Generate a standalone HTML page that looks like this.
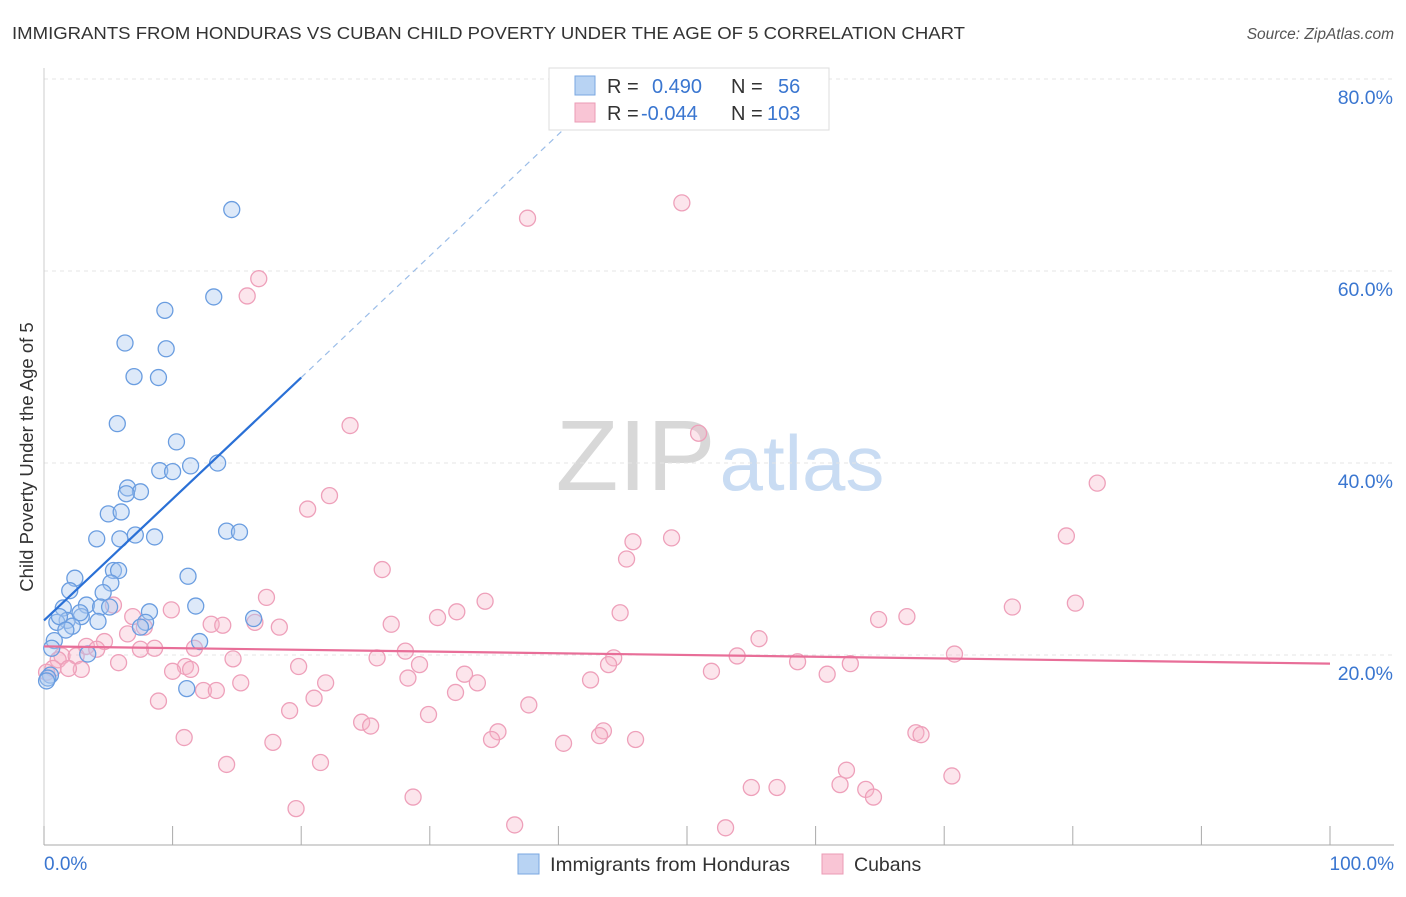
<!DOCTYPE html>
<html><head><meta charset="utf-8"><style>
body{margin:0;background:#fff;font-family:"Liberation Sans",sans-serif}
svg text{font-family:"Liberation Sans",sans-serif}
</style></head><body>
<svg id="c" width="1406" height="892" xmlns="http://www.w3.org/2000/svg">
<text x="12" y="39" font-size="17.5" fill="#333" textLength="953" lengthAdjust="spacingAndGlyphs">IMMIGRANTS FROM HONDURAS VS CUBAN CHILD POVERTY UNDER THE AGE OF 5 CORRELATION CHART</text>
<text x="1394" y="39" font-size="15.5" fill="#555" text-anchor="end" font-style="italic">Source: ZipAtlas.com</text>
<text x="720" y="490" font-size="100" text-anchor="middle" fill="#ddd" font-family="Liberation Serif"><tspan fill="#d8d8d8" textLength="160" lengthAdjust="spacingAndGlyphs">ZIP</tspan><tspan fill="#c9dcf3" font-family="Liberation Sans" font-size="78" dx="4">atlas</tspan></text>
<g id="grid"></g>
<g id="axes"></g>
<g id="pts"></g>
<g id="lines"></g>
<text transform="translate(33,457) rotate(-90)" font-size="18.5" fill="#333" text-anchor="middle">Child Poverty Under the Age of 5</text>
<g>
<rect x="549" y="68" width="280" height="62" fill="#fff" stroke="#ddd"/>
<rect x="575" y="76" width="20" height="19" fill="#b8d3f3" stroke="#7aa7e0"/>
<rect x="575" y="103" width="20" height="19" fill="#f9c5d5" stroke="#eb9bb5"/>
<text y="93" font-size="20" fill="#333"><tspan x="607">R =</tspan><tspan x="652" fill="#3a76d0">0.490</tspan><tspan x="731">N =</tspan><tspan x="778" fill="#3a76d0">56</tspan></text>
<text y="120" font-size="20" fill="#333"><tspan x="607">R =</tspan><tspan x="641" fill="#3a76d0">-0.044</tspan><tspan x="731">N =</tspan><tspan x="767" fill="#3a76d0">103</tspan></text>
</g>
<g>
<rect x="518" y="854" width="21" height="20" fill="#b8d3f3" stroke="#7aa7e0"/>
<text x="550" y="871" font-size="19.5" fill="#333" textLength="240" lengthAdjust="spacingAndGlyphs">Immigrants from Honduras</text>
<rect x="822" y="854" width="21" height="20" fill="#f9c5d5" stroke="#eb9bb5"/>
<text x="854" y="871" font-size="19.5" fill="#333">Cubans</text>
</g>
</svg>
<script>
const yTicks=[20,40,60,80];
const xTickLabels=["0.0%","100.0%"];
const blueX=[14.6,13.2,9.4,6.3,9.5,7.0,8.9,5.7,10.3,9.0,10.0,11.4,13.5,6.5,7.5,6.4,5.0,6.0,4.1,5.9,7.1,8.6,14.2,15.2,5.4,5.8,11.2,2.4,5.2,4.6,2.0,3.3,4.4,1.5,8.2,11.8,16.3,2.9,1.8,1.0,4.2,7.9,7.5,2.2,12.1,0.8,0.6,3.4,11.1,0.5,0.3,0.2,2.8,1.2,5.1,1.7];
const blueY=[66.4,57.3,55.9,52.5,51.9,49.0,48.9,44.1,42.2,39.2,39.1,39.7,40.0,37.4,37.0,36.8,34.7,34.9,32.1,32.1,32.5,32.3,32.9,32.8,28.8,28.8,28.2,28.0,27.5,26.5,26.7,25.2,25.0,24.9,24.5,25.1,23.8,24.0,23.6,23.4,23.5,23.4,22.9,23.0,21.4,21.5,20.7,20.1,16.5,17.9,17.6,17.3,24.4,24.0,25.0,22.6];
const pinkX=[49.6,37.6,16.7,15.8,50.9,23.8,81.9,22.2,20.5,79.5,48.8,45.8,45.3,26.3,17.3,34.3,80.2,75.3,32.1,44.8,30.6,64.9,67.1,5.4,6.9,9.9,16.4,18.3,13.0,13.9,27.0,7.8,6.5,55.6,4.7,3.3,7.5,8.6,4.1,28.1,1.4,2.5,1.1,14.7,44.3,43.9,25.9,53.9,58.6,70.8,62.7,5.8,11.0,29.2,32.7,10.0,11.4,19.8,2.9,1.9,51.9,60.9,28.3,42.5,21.9,15.3,33.7,32.0,21.0,12.4,13.4,8.9,37.7,19.1,29.9,24.7,25.4,43.5,35.3,34.8,43.2,46.0,67.8,68.2,10.9,17.8,40.4,21.5,14.2,62.4,70.6,55.0,57.0,61.9,63.9,64.5,28.7,19.6,36.6,53.0,0.7,0.2,11.7];
const pinkY=[67.1,65.5,59.2,57.4,43.1,43.9,37.9,36.6,35.2,32.4,32.2,31.8,30.0,28.9,26.0,25.6,25.4,25.0,24.5,24.4,23.9,23.7,24.0,25.2,24.0,24.7,23.4,22.9,23.2,23.1,23.2,22.9,22.2,21.7,21.4,20.9,20.6,20.7,20.6,20.4,19.9,19.9,19.5,19.6,19.7,19.0,19.7,19.9,19.3,20.1,19.1,19.2,18.8,19.0,18.0,18.3,18.5,18.8,18.5,18.6,18.3,18.0,17.6,17.4,17.1,17.1,17.1,16.1,15.5,16.3,16.3,15.2,14.8,14.2,13.8,13.0,12.6,12.1,12.0,11.2,11.6,11.2,11.9,11.7,11.4,10.9,10.8,8.8,8.6,8.0,7.4,6.2,6.2,6.5,6.0,5.2,5.2,4.0,2.3,2.0,18.6,18.2,20.7];
const blueLine=[[0,23.6],[20,48.9]], blueDash=[[20,48.9],[41,75.5]];
const pinkLine=[[0,20.9],[100,19.1]];
const X=v=>44+v*12.86, Y=v=>847-v*9.6;
const NS="http://www.w3.org/2000/svg";
function mk(t,a,p){const e=document.createElementNS(NS,t);for(const k in a)e.setAttribute(k,a[k]);document.getElementById(p).appendChild(e);return e;}
yTicks.forEach(t=>{
 const l=mk('line',{x1:44,x2:1394,y1:Y(t),y2:Y(t),stroke:'#e4e4e4','stroke-dasharray':'4,4'},'grid');
 
 
 const tx=mk('text',{x:1393,y:Y(t)+25,'font-size':19.5,fill:'#3a76d0','text-anchor':'end'},'axes');
 tx.textContent=t.toFixed(1)+'%';
 
 
});
const ax=mk('line',{x1:44,x2:1394,y1:845,y2:845,stroke:'#aaa'},'axes');


const ay=mk('line',{x1:44,x2:44,y1:68,y2:845,stroke:'#ccc'},'axes');


for(let i=0;i<=10;i++){const t=mk('line',{x1:X(i*10),x2:X(i*10),y1:826,y2:845,stroke:'#aaa'},'axes');
 
 }
[[0,'start',44],[1,'end',1394]].forEach(([i,a,x])=>{const t=mk('text',{x:x,y:870,'font-size':19,fill:'#3a76d0','text-anchor':a},'axes');t.textContent=xTickLabels[i];
 
 });
pinkX.forEach((v,i)=>{const c=mk('circle',{cx:X(v),cy:Y(pinkY[i]),r:8,fill:'rgba(247,180,200,0.35)',stroke:'#eea0ba','stroke-width':1.3},'pts');
 
 });
blueX.forEach((v,i)=>{const c=mk('circle',{cx:X(v),cy:Y(blueY[i]),r:8,fill:'rgba(170,200,240,0.4)',stroke:'#6a9de0','stroke-width':1.3},'pts');
 
 });
const bl=mk('line',{x1:X(blueLine[0][0]),y1:Y(blueLine[0][1]),x2:X(blueLine[1][0]),y2:Y(blueLine[1][1]),stroke:'#2a70d6','stroke-width':2.2},'lines');


const bd=mk('line',{x1:X(blueDash[0][0]),y1:Y(blueDash[0][1]),x2:X(blueDash[1][0]),y2:Y(blueDash[1][1]),stroke:'#9bbde8','stroke-width':1.2,'stroke-dasharray':'6,5'},'lines');


const pl=mk('line',{x1:X(pinkLine[0][0]),y1:Y(pinkLine[0][1]),x2:X(pinkLine[1][0]),y2:Y(pinkLine[1][1]),stroke:'#e86e98','stroke-width':2.2},'lines');


</script>
</body></html>
